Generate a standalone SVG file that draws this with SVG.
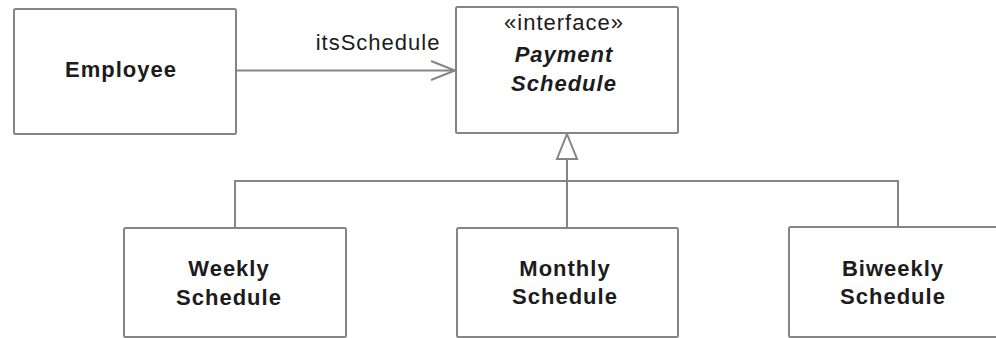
<svg xmlns="http://www.w3.org/2000/svg" width="996" height="338" viewBox="0 0 996 338">
  <style>
    .box { fill: #ffffff; stroke: #858585; stroke-width: 2; }
    .ln { fill: none; stroke: #858585; stroke-width: 2; }
    .t { font-family: "Liberation Sans", Arial, sans-serif; font-size: 22px; fill: #1c1c1c; text-anchor: middle; letter-spacing: 1px; }
    .b { font-weight: bold; }
    .bi { font-weight: bold; font-style: italic; }
  </style>
  <rect width="996" height="338" fill="#ffffff"/>

  <!-- connectors -->
  <g id="connectors">
    <!-- association Employee -> Payment Schedule -->
    <line class="ln" x1="236" y1="70.5" x2="455" y2="70.5"/>
    <polyline class="ln" points="431,61 455,70.5 431,80"/>
    <text class="t" x="378" y="50">itsSchedule</text>
    <!-- realization tree -->
    <polyline class="ln" points="235,228 235,181 898,181 898,227"/>
    <line class="ln" x1="567" y1="159" x2="567" y2="228"/>
    <polygon class="box" points="567,134 577,159 557,159"/>
  </g>

  <g id="employee">
    <rect class="box" x="14" y="9" width="222" height="125" rx="1.5"/>
    <text class="t b" x="121" y="77">Employee</text>
  </g>

  <g id="payment-schedule">
    <rect class="box" x="456" y="7" width="222" height="126" rx="1.5"/>
    <text class="t" x="564" y="30">«interface»</text>
    <text class="t bi" x="564" y="62">Payment</text>
    <text class="t bi" x="564" y="91">Schedule</text>
  </g>

  <g id="weekly-schedule">
    <rect class="box" x="124" y="228" width="222" height="109" rx="1.5"/>
    <text class="t b" x="229" y="276">Weekly</text>
    <text class="t b" x="229" y="305">Schedule</text>
  </g>

  <g id="monthly-schedule">
    <rect class="box" x="457" y="228" width="221" height="109" rx="1.5"/>
    <text class="t b" x="565" y="276">Monthly</text>
    <text class="t b" x="565" y="304">Schedule</text>
  </g>

  <g id="biweekly-schedule">
    <rect class="box" x="789" y="227" width="230" height="110" rx="1.5"/>
    <text class="t b" x="893" y="276">Biweekly</text>
    <text class="t b" x="893" y="304">Schedule</text>
  </g>
</svg>
